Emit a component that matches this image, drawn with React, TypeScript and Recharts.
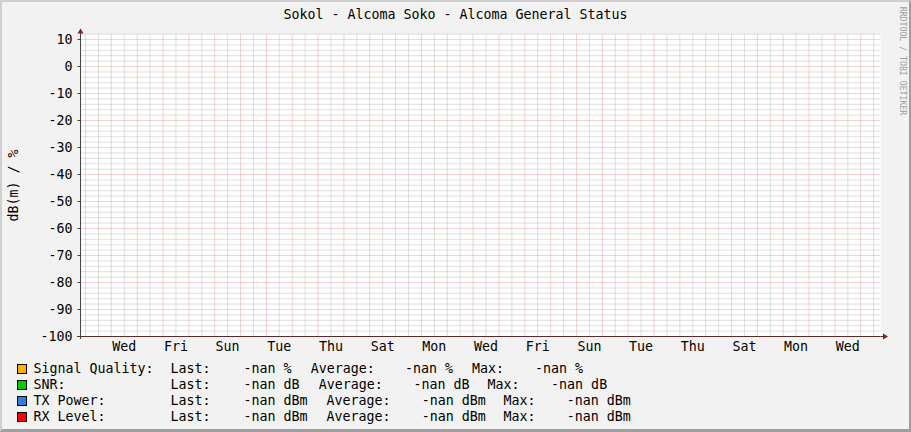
import React from "react";
import { LineChart, Line, XAxis, YAxis, ReferenceLine, CartesianGrid } from "recharts";

// sample times (hours from the left edge of the graph) and the four series, all NaN in the source
const sampleHours = [0, 168, 336, 504, 672, 743];
const signalQuality = [null, null, null, null, null, null];
const snr = [null, null, null, null, null, null];
const txPower = [null, null, null, null, null, null];
const rxLevel = [null, null, null, null, null, null];

const dayLabels = ["Wed", "Fri", "Sun", "Tue", "Thu", "Sat", "Mon", "Wed", "Fri", "Sun", "Tue", "Thu", "Sat", "Mon", "Wed"];
const yTicks = [10, 0, -10, -20, -30, -40, -50, -60, -70, -80, -90, -100];

const seriesNames = ["Signal Quality:", "SNR:", "TX Power:", "RX Level:"];
const seriesUnits = ["%", "dB", "dBm", "dBm"];
const seriesColors = ["#FFB000", "#00CC00", "#2A7FDF", "#FF0000"];
const lastValues = ["-nan", "-nan", "-nan", "-nan"];
const avgValues = ["-nan", "-nan", "-nan", "-nan"];
const maxValues = ["-nan", "-nan", "-nan", "-nan"];

const X_END = 743;
const FIRST_MIDNIGHT = 4.65;
const Y_MIN = -100;
const Y_MAX = 12;

const midnights: number[] = [];
const noons: number[] = [];
for (let h = FIRST_MIDNIGHT; h < X_END; h += 24) midnights.push(h);
for (let h = FIRST_MIDNIGHT + 12; h < X_END; h += 24) noons.push(h);
const labelHours = dayLabels.map((_, i) => FIRST_MIDNIGHT + 36 + 48 * i);

const minorY: number[] = [];
for (let v = Y_MIN + 2; v <= Y_MAX; v += 2) if (v % 10 !== 0) minorY.push(v);
const majorY = yTicks.filter((v) => v !== Y_MIN);

const data = sampleHours.map((h, i) => ({
  h,
  signalQuality: signalQuality[i],
  snr: snr[i],
  txPower: txPower[i],
  rxLevel: rxLevel[i],
}));

const MONO = '"DejaVu Sans Mono", monospace';
const FS = 13.3;
const MINOR = "rgba(143,143,143,0.55)";
const MAJOR = "rgba(222,80,80,0.5)";

// legend column layout (left edge of each text cell)
const colLabel = 33.5;
const colLast = 170.6;
const colLastVal = 243.4;
const colAvg = [310.7, 318.7, 326.4, 326.4];
const colAvgVal = [405.1, 413.4, 421.7, 421.7];
const colMax = [472, 487.6, 503.6, 503.6];
const colMaxVal = [535.1, 551.1, 566.7, 566.7];

const txt = (left: number, top: number, s: string) => (
  <div style={{ position: "absolute", left, top, whiteSpace: "pre", lineHeight: "15px" }}>{s}</div>
);

export default function App() {
  return (
    <div
      style={{
        position: "absolute",
        left: 0,
        top: 0,
        width: 911,
        height: 432,
        background: "#F2F2F2",
        fontFamily: MONO,
        fontSize: FS,
        color: "#000",
        overflow: "hidden",
      }}
    >
      <LineChart width={911} height={432} data={data} margin={{ top: 34.1, right: 30.5, bottom: 75.5, left: 0 }}>
        <CartesianGrid horizontal={false} vertical={false} fill="#FFFFFF" xAxisId="labels" />
        {minorY.map((v) => (
          <ReferenceLine key={"my" + v} y={v} xAxisId="labels" stroke={MINOR} strokeDasharray="1 1" />
        ))}
        {noons.map((v) => (
          <ReferenceLine key={"mx" + v} x={v} xAxisId="labels" stroke={MINOR} strokeDasharray="1 1" />
        ))}
        {majorY.map((v) => (
          <ReferenceLine key={"My" + v} y={v} xAxisId="labels" stroke={MAJOR} strokeDasharray="1 1" />
        ))}
        {midnights.map((v) => (
          <ReferenceLine key={"Mx" + v} x={v} xAxisId="labels" stroke={MAJOR} strokeDasharray="1 1" />
        ))}
        <XAxis
          xAxisId="days"
          type="number"
          dataKey="h"
          domain={[0, X_END]}
          allowDataOverflow
          ticks={midnights}
          interval={0}
          tick={false}
          tickSize={2}
          tickLine={{ stroke: "#c77" }}
          axisLine={false}
          height={0}
        />
        <XAxis
          xAxisId="labels"
          type="number"
          dataKey="h"
          domain={[0, X_END]}
          allowDataOverflow
          ticks={labelHours}
          interval={0}
          tickFormatter={(v: number) => dayLabels[labelHours.indexOf(v)] ?? ""}
          tick={{ fontFamily: MONO, fontSize: FS, fill: "#000" }}
          tickLine={false}
          tickSize={0}
          tickMargin={5}
          axisLine={{ stroke: "#5a2b2b" }}
          height={20}
        />
        <YAxis
          type="number"
          domain={[Y_MIN, Y_MAX]}
          allowDataOverflow
          ticks={yTicks}
          interval={0}
          width={80.5}
          tick={{ fontFamily: MONO, fontSize: FS, fill: "#000" }}
          tickSize={3}
          tickMargin={5}
          tickLine={{ stroke: "#444" }}
          axisLine={{ stroke: "#444" }}
        />
        <Line xAxisId="labels" dataKey="signalQuality" stroke={seriesColors[0]} dot={false} isAnimationActive={false} />
        <Line xAxisId="labels" dataKey="snr" stroke={seriesColors[1]} dot={false} isAnimationActive={false} />
        <Line xAxisId="labels" dataKey="txPower" stroke={seriesColors[2]} dot={false} isAnimationActive={false} />
        <Line xAxisId="labels" dataKey="rxLevel" stroke={seriesColors[3]} dot={false} isAnimationActive={false} />
      </LineChart>

      <svg width={911} height={432} style={{ position: "absolute", left: 0, top: 0, pointerEvents: "none" }}>
        <line x1={80.5} y1={33} x2={80.5} y2={34.5} stroke="#444" />
        <line x1={80.5} y1={336.5} x2={80.5} y2={339} stroke="#444" />
        <line x1={77} y1={336.5} x2={80.5} y2={336.5} stroke="#5a2b2b" />
        <line x1={880.5} y1={336.5} x2={884} y2={336.5} stroke="#5a2b2b" />
        <polygon points="80.5,28.5 77.5,33.5 83.5,33.5" fill="#801F1F" />
        <polygon points="888,336.5 883,333.5 883,339.5" fill="#801F1F" />
      </svg>

      <div style={{ position: "absolute", left: 0, top: 7, width: 911, textAlign: "center", lineHeight: "15px" }}>
        Sokol - Alcoma Soko - Alcoma General Status
      </div>

      <div
        style={{
          position: "absolute",
          left: 12.5 - 60,
          top: 185 - 7.5,
          width: 120,
          height: 15,
          lineHeight: "15px",
          textAlign: "center",
          transform: "rotate(-90deg)",
        }}
      >
        dB(m) / %
      </div>

      <div
        style={{
          position: "absolute",
          left: 902.7 - 65,
          top: 60.5 - 5,
          width: 130,
          height: 10,
          lineHeight: "10px",
          fontSize: 8.2,
          color: "#9E9E9E",
          textAlign: "center",
          transform: "rotate(90deg)",
        }}
      >
        RRDTOOL / TOBI OETIKER
      </div>

      {seriesNames.map((name, i) => {
        const top = 361 + 15.9 * i;
        return (
          <React.Fragment key={name}>
            <div
              style={{
                position: "absolute",
                left: 17,
                top: top + 2.8,
                width: 10,
                height: 10,
                boxSizing: "border-box",
                border: "1px solid #000",
                background: seriesColors[i],
              }}
            />
            {txt(colLabel, top, name)}
            {txt(colLast, top, "Last:")}
            {txt(colLastVal, top, `${lastValues[i]} ${seriesUnits[i]}`)}
            {txt(colAvg[i], top, "Average:")}
            {txt(colAvgVal[i], top, `${avgValues[i]} ${seriesUnits[i]}`)}
            {txt(colMax[i], top, "Max:")}
            {txt(colMaxVal[i], top, `${maxValues[i]} ${seriesUnits[i]}`)}
          </React.Fragment>
        );
      })}

      <div
        style={{
          position: "absolute",
          left: 0,
          top: 0,
          width: 911,
          height: 432,
          boxSizing: "border-box",
          borderTop: "2px solid #CFCFCF",
          borderLeft: "2px solid #CFCFCF",
          borderRight: "2px solid #9E9E9E",
          borderBottom: "3px solid #9E9E9E",
          pointerEvents: "none",
        }}
      />
    </div>
  );
}
